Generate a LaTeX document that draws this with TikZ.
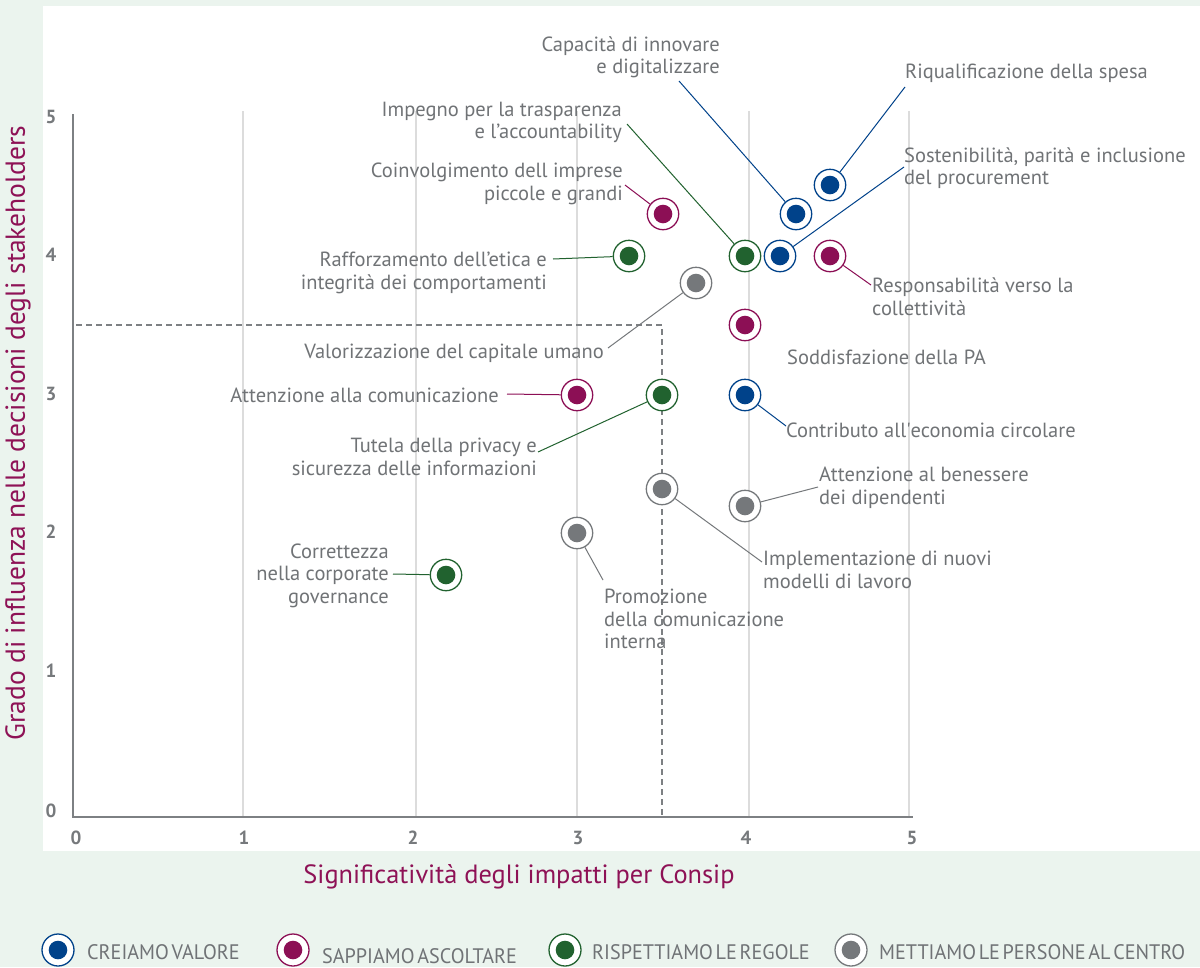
\documentclass[tikz,border=0pt]{standalone}
\usepackage{fontspec}
\setmainfont{PT Sans}
\newfontfamily\legfont[FakeStretch=0.96, WordSpace=0.5]{PT Sans}
\definecolor{bgc}{HTML}{EBF4EE}
\definecolor{txt}{HTML}{707376}
\definecolor{tick}{HTML}{76797C}
\definecolor{axc}{HTML}{7D8083}
\definecolor{gridc}{HTML}{DCDCDC}
\definecolor{cblue}{HTML}{00428A}
\definecolor{cmag}{HTML}{8C0F55}
\definecolor{cgreen}{HTML}{21622F}
\definecolor{cgrey}{HTML}{75787B}
\definecolor{ctitle}{HTML}{8E1256}
\begin{document}
\begin{tikzpicture}[x=1pt,y=-1pt,
  mk/.style={circle, draw=#1, line width=1.3pt, minimum size=31.4pt, inner sep=0pt, fill=white,
    path picture={\fill[#1] (path picture bounding box.center) circle (9.3pt);}},
  lbl/.style={font=\fontsize{20.5}{22.5}\selectfont, text=txt, inner sep=0pt},
  lblL/.style={lbl, align=left, anchor=base west},
  lblR/.style={lbl, align=right, anchor=base east},
  lead/.style={draw=#1, line width=1pt},
  tk/.style={font=\fontsize{19}{19}\selectfont\bfseries, text=tick, inner sep=0pt},
  leg/.style={font=\fontsize{21}{21}\legfont, text=txt, inner sep=0pt, anchor=base west},
  grid line/.style={draw=gridc, line width=1.5pt},
  dash line/.style={draw=axc, line width=1.5pt, dash pattern=on 6pt off 4pt}
]
\fill[bgc] (0,0) rectangle (1200,967);
\useasboundingbox (0,0) rectangle (1200,967);
\fill[white] (43,6) rectangle (1200,851);
% grid
\foreach \gx in {243,416,577,749,909}{\draw[grid line] (\gx,111) -- (\gx,817);}
% axes
\draw[draw=axc, line width=2.2pt] (73,114) -- (73,817) -- (913,817);
% ticks
\foreach \lx/\t in {76/0,244/1,413/2,578/3,746/4,912/5}{\node[tk] (xt\t) at (\lx,838) {\t};}
\foreach \ly/\t in {811/0,671/1,532/2,394/3,255/4,117/5}{\node[tk] (yt\t) at (51,\ly) {\t};}
% dashed threshold
\coordinate (d1) at (76,325);
\coordinate (d2) at (662,325);
\coordinate (d3) at (662,817);
\draw[dash line] (d1) -- (d2) -- (d3);
% axis titles
\node[rotate=90, font=\fontsize{27.5}{27.5}\selectfont, text=ctitle, inner sep=0pt] (ytitle) at (18,433) {Grado di influenza nelle decisioni degli stakeholders};
\node[font=\fontsize{26.4}{26.4}\selectfont, text=ctitle, inner sep=0pt, anchor=base] (xtitle) at (519,883) {Significatività degli impatti per Consip};

% markers
\node[mk=cblue] (riq) at (830,185) {};
\node[mk=cblue] (cap) at (796,214) {};
\node[mk=cblue] (sost) at (780,256) {};
\node[mk=cblue] (contr) at (745,395) {};
\node[mk=cmag] (coinv) at (663,214) {};
\node[mk=cmag] (resp) at (830,256) {};
\node[mk=cmag] (sodd) at (745,325) {};
\node[mk=cmag] (attc) at (577,395) {};
\node[mk=cgreen] (imp) at (745,256) {};
\node[mk=cgreen] (raff) at (629,256) {};
\node[mk=cgreen] (tut) at (662,395) {};
\node[mk=cgreen] (corr) at (446,575) {};
\node[mk=cgrey] (val) at (696,283) {};
\node[mk=cgrey] (ben) at (745,506) {};
\node[mk=cgrey] (impl) at (662,489) {};
\node[mk=cgrey] (prom) at (577,533) {};

% labels (base anchor = baseline of last line)
\node[lblL] (triq) at (905,78) {Riqualificazione della spesa};
\node[lblR] (tcap) at (720,73.5) {Capacità di innovare\\e digitalizzare};
\node[lblL] (tsost) at (904,184.5) {Sostenibilità, parità e inclusione\\del procurement};
\node[lblL] (tcontr) at (786,437) {Contributo all\textquotesingle economia circolare};
\node[lblL] (tsodd) at (787,364.5) {Soddisfazione della PA};
\node[lblR] (tcoinv) at (623,200) {Coinvolgimento dell imprese\\piccole e grandi};
\node[lblL] (tresp) at (872,315) {Responsabilità verso la\\collettività};
\node[lblR] (tattc) at (499,402) {Attenzione alla comunicazione};
\node[lblR] (timp) at (622,138.5) {Impegno per la trasparenza\\e l’accountability};
\node[lblR] (traff) at (547,289) {Rafforzamento dell’etica e\\integrità dei comportamenti};
\node[lblR] (ttut) at (537,475) {Tutela della privacy e\\sicurezza delle informazioni};
\node[lblR] (tcorr) at (389,603) {Correttezza\\nella corporate\\governance};
\node[lblR] (tval) at (604,358) {Valorizzazione del capitale umano};
\node[lblL] (tben) at (819,504) {Attenzione al benessere\\dei dipendenti};
\node[lblL] (timpl) at (763,588) {Implementazione di nuovi\\modelli di lavoro};
\node[lblL] (tprom) at (604,648.5) {Promozione\\della comunicazione\\interna};

% leader ends
\coordinate (eriq) at (905,87);
\coordinate (ecap) at (679,81);
\coordinate (esost) at (904,167);
\coordinate (econtr) at (786,426);
\coordinate (ecoinv) at (625,185);
\coordinate (eresp) at (871,285);
\coordinate (eattc) at (507,394);
\coordinate (eimp) at (627,124);
\coordinate (eraff) at (553,259);
\coordinate (etut) at (538,452);
\coordinate (ecorr) at (393,574);
\coordinate (eval) at (608,348);
\coordinate (eben) at (818,487);
\coordinate (eimpl) at (762,562);
\coordinate (eprom) at (603,580);

\draw[lead=cblue] (eriq) -- (riq);
\draw[lead=cblue] (ecap) -- (cap);
\draw[lead=cblue] (esost) -- (sost);
\draw[lead=cblue] (econtr) -- (contr);
\draw[lead=cmag] (ecoinv) -- (coinv);
\draw[lead=cmag] (eresp) -- (resp);
\draw[lead=cmag] (eattc) -- (attc);
\draw[lead=cgreen] (eimp) -- (imp);
\draw[lead=cgreen] (eraff) -- (raff);
\draw[lead=cgreen] (etut) -- (tut);
\draw[lead=cgreen] (ecorr) -- (corr);
\draw[lead=cgrey] (eval) -- (val);
\draw[lead=cgrey] (eben) -- (ben);
\draw[lead=cgrey] (eimpl) -- (impl);
\draw[lead=cgrey] (eprom) -- (prom);

% legend
\node[mk=cblue, minimum size=32pt] (lg1) at (58,950) {};
\node[mk=cmag, minimum size=32pt] (lg2) at (293,950) {};
\node[mk=cgreen, minimum size=32pt] (lg3) at (565,950) {};
\node[mk=cgrey, minimum size=32pt] (lg4) at (851,950) {};
\node[leg] (lt1) at (87,959) {CREIAMO VALORE};
\node[leg] (lt2) at (322,963) {SAPPIAMO ASCOLTARE};
\node[leg] (lt3) at (592,959) {RISPETTIAMO LE REGOLE};
\node[leg] (lt4) at (879,959) {METTIAMO LE PERSONE AL CENTRO};
\end{tikzpicture}
\end{document}
